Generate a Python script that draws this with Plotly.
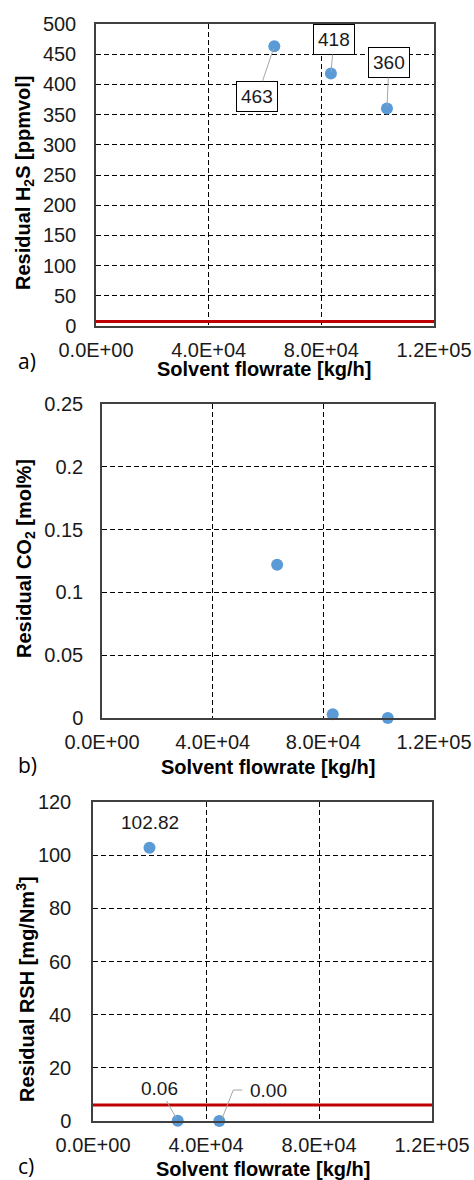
import plotly.graph_objects as go

# ---- data -------------------------------------------------------------
# Solvent flowrate [kg/h] for the H2S / CO2 runs
flow_ab = [63300, 83400, 103300]
h2s_ppmvol = [463, 418, 360]
co2_molpct = [0.122, 0.003, 0.0]

# Solvent flowrate [kg/h] for the RSH runs
flow_c = [20000, 30000, 44700]
rsh_mg_nm3 = [102.82, 0.06, 0.00]

# Specification limits
h2s_limit = 7.5
rsh_limit = 6

x_ticks = [0, 40000, 80000, 120000]
x_tick_labels = ["0.0E+00", "4.0E+04", "8.0E+04", "1.2E+05"]
h2s_ticks = [0, 50, 100, 150, 200, 250, 300, 350, 400, 450, 500]
co2_ticks = [0, 0.05, 0.1, 0.15, 0.2, 0.25]
co2_tick_labels = ["0", "0.05", "0.1", "0.15", "0.2", "0.25"]
rsh_ticks = [0, 20, 40, 60, 80, 100, 120]

# ---- layout helpers ----------------------------------------------------
W, H = 474, 1180
FONT = "Arial, Liberation Sans, sans-serif"
POINT = "#5B9BD5"
LIMIT = "#C00000"
LEADER = "#A6A6A6"
FRAME = "#404040"


def xdom(left, right):
    return [left / W, right / W]


def ydom(top, bottom):
    return [1 - bottom / H, 1 - top / H]


def px(x):
    return x / W


def py(y):
    return 1 - y / H


# plot boxes in pixels: left, right, top, bottom
boxes = {
    1: (96, 434, 24, 326),
    2: (102, 434, 404, 718),
    3: (93, 432, 802, 1121),
}

fig = go.Figure()

# panel a: H2S
fig.add_trace(go.Scatter(x=[0, 120000], y=[h2s_limit, h2s_limit], mode="lines",
                         line=dict(color=LIMIT, width=3), xaxis="x", yaxis="y",
                         hoverinfo="skip"))
fig.add_trace(go.Scatter(x=flow_ab, y=h2s_ppmvol, mode="markers",
                         marker=dict(color=POINT, size=12), cliponaxis=False,
                         xaxis="x", yaxis="y"))

# panel b: CO2
fig.add_trace(go.Scatter(x=flow_ab, y=co2_molpct, mode="markers",
                         marker=dict(color=POINT, size=12), cliponaxis=False,
                         xaxis="x2", yaxis="y2"))

# panel c: RSH
fig.add_trace(go.Scatter(x=[0, 120000], y=[rsh_limit, rsh_limit], mode="lines",
                         line=dict(color=LIMIT, width=3), xaxis="x3", yaxis="y3",
                         hoverinfo="skip"))
fig.add_trace(go.Scatter(x=flow_c, y=rsh_mg_nm3, mode="markers",
                         marker=dict(color=POINT, size=12), cliponaxis=False,
                         xaxis="x3", yaxis="y3"))

tick_font = dict(family=FONT, size=20, color="#1a1a1a")
grid = dict(showgrid=True, gridcolor="#000000", gridwidth=1, griddash="5px,3px",
            zeroline=False, showline=True, linecolor=FRAME, linewidth=1.5,
            mirror=True, ticks="", tickfont=tick_font, automargin=False)

y_axes = {
    1: dict(range=[0, 500], tickvals=h2s_ticks, ticktext=[str(t) for t in h2s_ticks],
            ticklabelstandoff=14),
    2: dict(range=[0, 0.25], tickvals=co2_ticks, ticktext=co2_tick_labels,
            ticklabelstandoff=13),
    3: dict(range=[0, 120], tickvals=rsh_ticks, ticktext=[str(t) for t in rsh_ticks],
            ticklabelstandoff=16),
}

layout = {}
for i, (l, r, t, b) in boxes.items():
    sx = "" if i == 1 else str(i)
    layout["xaxis" + sx] = dict(domain=xdom(l, r), anchor="y" + sx, range=[0, 120000],
                                tickvals=x_ticks, ticktext=x_tick_labels,
                                ticklabelstandoff=5, **grid)
    layout["yaxis" + sx] = dict(domain=ydom(t, b), anchor="x" + sx, **y_axes[i], **grid)

fig.update_layout(
    width=W, height=H,
    margin=dict(l=0, r=0, t=0, b=0),
    paper_bgcolor="white", plot_bgcolor="white",
    showlegend=False,
    font=dict(family=FONT, color="#1a1a1a"),
    **layout,
)

title_font = dict(family=FONT, size=20, color="#000000")
label_font = dict(family=FONT, size=19, color="#1a1a1a")
ann = []

# axis titles
y_titles = [
    ("<b>Residual H<sub>2</sub>S [ppmvol]</b>", 183),
    ("<b>Residual CO<sub>2</sub> [mol%]</b>", 559),
    ("<b>Residual RSH [mg/Nm<sup>3</sup>]</b>", 989),
]
for text, yc in y_titles:
    ann.append(dict(text=text, xref="paper", yref="paper", x=px(25), y=py(yc),
                    xanchor="center", yanchor="middle", textangle=-90,
                    showarrow=False, font=title_font))

x_titles = [(264, 369), (268, 767), (263, 1169)]
for xc, yc in x_titles:
    ann.append(dict(text="<b>Solvent flowrate [kg/h]</b>", xref="paper", yref="paper",
                    x=px(xc), y=py(yc), xanchor="center", yanchor="middle",
                    showarrow=False, font=title_font))

# panel letters
for letter, yc in [("a)", 361), ("b)", 765), ("c)", 1166)]:
    ann.append(dict(text=letter, xref="paper", yref="paper", x=px(16), y=py(yc),
                    xanchor="left", yanchor="middle", showarrow=False,
                    font=dict(family="Open Sans, sans-serif", size=21, color="#000000")))

# boxed value labels, panel a
offsets_a = [(-17, 50), (3, -34), (2, -46)]
for xv, yv, (dx, dy) in zip(flow_ab, h2s_ppmvol, offsets_a):
    ann.append(dict(text=str(yv), x=xv, y=yv, xref="x", yref="y",
                    ax=dx, ay=dy, showarrow=True, arrowhead=0, arrowwidth=1,
                    arrowcolor=LEADER, standoff=2,
                    bordercolor="#000000", borderwidth=1, borderpad=4,
                    bgcolor="white", font=label_font))

# value labels, panel c
ann.append(dict(text=f"{rsh_mg_nm3[0]:.2f}", x=flow_c[0], y=rsh_mg_nm3[0],
                xref="x3", yref="y3", showarrow=False, yshift=25, font=label_font))
ann.append(dict(text=f"{rsh_mg_nm3[1]:.2f}", x=flow_c[1], y=rsh_mg_nm3[1],
                xref="x3", yref="y3", ax=-18, ay=-32, showarrow=True, arrowhead=0,
                arrowwidth=1, arrowcolor=LEADER, standoff=3, font=label_font))
ann.append(dict(text=f"{rsh_mg_nm3[2]:.2f}", x=flow_c[2], y=rsh_mg_nm3[2],
                xref="x3", yref="y3", showarrow=False, xshift=49, yshift=31,
                font=label_font))

fig.update_layout(annotations=ann)

# elbow leader for the last RSH label
fig.add_shape(type="path", xref="x3", yref="y3", xsizemode="pixel", ysizemode="pixel",
              xanchor=flow_c[2], yanchor=rsh_mg_nm3[2],
              path="M 3 3 L 14 31 L 23 31", line=dict(color=LEADER, width=1))

fig.write_html("out.html")
